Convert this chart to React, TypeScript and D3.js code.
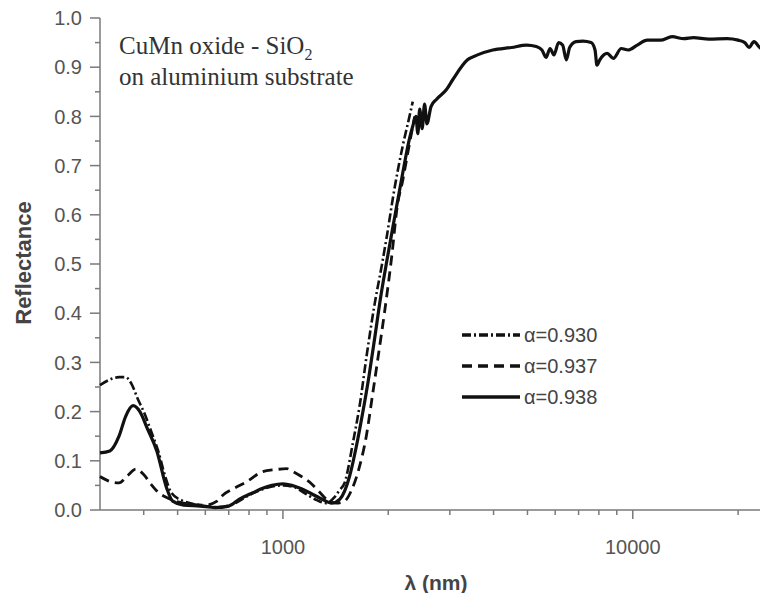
import * as d3 from "d3";

const MARGIN = { top: 18, left: 100, bottom: 510, right: 772 };

// α=0.938 (solid)
const solidLambda = [300, 320, 340, 355, 373, 390, 410, 436, 465, 484, 520, 580, 640, 700, 751, 820, 875, 930, 1000, 1060, 1120, 1200, 1277, 1380, 1455, 1550, 1620, 1690, 1760, 1830, 1900, 1980, 2080, 2200, 2300, 2350, 2400, 2430, 2460, 2500, 2540, 2580, 2650, 2750, 2930, 3060, 3370, 3600, 3980, 4500, 4970, 5300, 5500, 5650, 5800, 5950, 6140, 6300, 6460, 6600, 6880, 7200, 7600, 7800, 7900, 8050, 8450, 8800, 9270, 9700, 10300, 11000, 12000, 12950, 14000, 14900, 16500, 18600, 20000, 20900, 21500, 22200, 23300, 24200, 25000];
const solidR = [0.116, 0.12, 0.15, 0.19, 0.212, 0.2, 0.165, 0.12, 0.045, 0.018, 0.01, 0.008, 0.005, 0.008, 0.022, 0.035, 0.044, 0.05, 0.053, 0.05, 0.044, 0.034, 0.024, 0.014, 0.022, 0.068, 0.128, 0.197, 0.27, 0.35, 0.43, 0.505, 0.59, 0.685, 0.755, 0.78, 0.8, 0.765, 0.815, 0.775, 0.825, 0.785, 0.82, 0.835, 0.854, 0.875, 0.915, 0.925, 0.935, 0.94, 0.945, 0.942, 0.935, 0.92, 0.938, 0.925, 0.95, 0.945, 0.915, 0.94, 0.952, 0.953, 0.95, 0.935, 0.904, 0.915, 0.928, 0.918, 0.938, 0.935, 0.945, 0.955, 0.955, 0.962, 0.958, 0.96, 0.957, 0.958, 0.955, 0.95, 0.94, 0.952, 0.938, 0.945, 0.94];

// α=0.937 (dashed)
const dashLambda = [300, 320, 340, 360, 380, 400, 420, 440, 470, 520, 600, 648, 673, 730, 786, 875, 950, 1026, 1070, 1130, 1200, 1270, 1340, 1420, 1500, 1570, 1655, 1730, 1800, 1870, 1950, 2050, 2120, 2200, 2280, 2380];
const dashR = [0.068, 0.058, 0.055, 0.07, 0.083, 0.072, 0.052, 0.036, 0.024, 0.014, 0.01, 0.018, 0.03, 0.045, 0.057, 0.078, 0.082, 0.084, 0.078, 0.068, 0.055, 0.037, 0.02, 0.014, 0.018, 0.04, 0.088, 0.149, 0.23, 0.31, 0.4, 0.52, 0.615, 0.67, 0.73, 0.8];

// α=0.930 (dash-dot)
const dotLambda = [300, 320, 340, 355, 370, 385, 400, 420, 440, 460, 480, 520, 580, 650, 720, 800, 900, 1000, 1080, 1150, 1250, 1330, 1400, 1450, 1500, 1590, 1655, 1740, 1830, 1920, 1980, 2080, 2200, 2300, 2350];
const dotR = [0.254, 0.265, 0.27, 0.27, 0.255, 0.225, 0.2, 0.16, 0.12, 0.07, 0.035, 0.018, 0.01, 0.006, 0.012, 0.03, 0.045, 0.05, 0.046, 0.035, 0.02, 0.014, 0.025, 0.04, 0.055, 0.142, 0.21, 0.32, 0.42, 0.5, 0.555, 0.65, 0.74, 0.8, 0.83];

const yTickValues = [0, 0.1, 0.2, 0.3, 0.4, 0.5, 0.6, 0.7, 0.8, 0.9, 1.0];
const xTickValues = [1000, 10000];

const legendNames = ["α=0.930", "α=0.937", "α=0.938"];
const legendDash = ["9,3,2,3", "10,6", "none"];

export default function App() {
  const x = d3.scaleLog().domain([300, 25000]).range([MARGIN.left, MARGIN.right]);
  const y = d3.scaleLinear().domain([0, 1]).range([MARGIN.bottom, MARGIN.top]);

  // one path per series, lambda array for x, reflectance array for y
  const mk = (lam: number[], r: number[]) =>
    d3
      .line<number>()
      .x((_, i) => x(lam[i]))
      .y((d) => y(d))
      .curve(d3.curveMonotoneX)(r) as string;

  const minorX = x.ticks().filter((t) => !xTickValues.includes(t) && t > 300);
  const minorY = d3.range(0.05, 1, 0.1);
  const axisColor = "#7a7a7a";
  const labelColor = "#555";

  return (
    <svg
      width={760}
      height={593}
      style={{ position: "absolute", left: 0, top: 0, background: "#fff" }}
      fontFamily="Arial, 'Liberation Sans', sans-serif"
    >
      {/* axes */}
      <line x1={MARGIN.left} x2={MARGIN.left} y1={MARGIN.top} y2={MARGIN.bottom} stroke={axisColor} strokeWidth={1.5} />
      <line x1={MARGIN.left} x2={MARGIN.right} y1={MARGIN.bottom} y2={MARGIN.bottom} stroke={axisColor} strokeWidth={1.5} />
      {yTickValues.map((t) => (
        <g key={"y" + t}>
          <line x1={MARGIN.left - 10} x2={MARGIN.left} y1={y(t)} y2={y(t)} stroke={axisColor} strokeWidth={1.5} />
          <text x={MARGIN.left - 18} y={y(t)} dy="0.36em" textAnchor="end" fontSize={20} fill={labelColor}>
            {t.toFixed(1)}
          </text>
        </g>
      ))}
      {minorY.map((t) => (
        <line key={"my" + t} x1={MARGIN.left - 5} x2={MARGIN.left} y1={y(t)} y2={y(t)} stroke={axisColor} strokeWidth={1.5} />
      ))}
      {xTickValues.map((t) => (
        <g key={"x" + t}>
          <line x1={x(t)} x2={x(t)} y1={MARGIN.bottom} y2={MARGIN.bottom + 9} stroke={axisColor} strokeWidth={1.5} />
          <text x={x(t)} y={MARGIN.bottom + 44} textAnchor="middle" fontSize={20} fill={labelColor}>
            {t}
          </text>
        </g>
      ))}
      {minorX.map((t) => (
        <line key={"mx" + t} x1={x(t)} x2={x(t)} y1={MARGIN.bottom} y2={MARGIN.bottom + 5} stroke={axisColor} strokeWidth={1.5} />
      ))}
      <text x={436} y={590} textAnchor="middle" fontSize={21} fontWeight="bold" fill="#444">
        λ (nm)
      </text>
      <text transform="translate(31,263) rotate(-90)" textAnchor="middle" fontSize={22} fontWeight="bold" fill="#444">
        Reflectance
      </text>

      {/* title */}
      <g fontFamily="'Liberation Serif', 'Times New Roman', serif" fontSize={25} fill="#333">
        <text x={119} y={54}>
          CuMn oxide - SiO<tspan fontSize={16} dy={6}>2</tspan>
        </text>
        <text x={119} y={85}>on aluminium substrate</text>
      </g>

      {/* curves */}
      <path d={mk(dotLambda, dotR)} fill="none" stroke="#111" strokeWidth={2.6} strokeDasharray="9,3,2,3" />
      <path d={mk(dashLambda, dashR)} fill="none" stroke="#111" strokeWidth={2.8} strokeDasharray="10,6" />
      <path d={mk(solidLambda, solidR)} fill="none" stroke="#111" strokeWidth={3.2} />

      {/* legend */}
      {legendNames.map((name, i) => (
        <g key={name} transform={`translate(462,${335 + i * 31})`}>
          <line x1={0} x2={58} y1={0} y2={0} stroke="#111" strokeWidth={3.5} strokeDasharray={legendDash[i]} />
          <text x={62} y={0} dy="0.36em" fontSize={20} fill="#444">
            {name}
          </text>
        </g>
      ))}
    </svg>
  );
}
